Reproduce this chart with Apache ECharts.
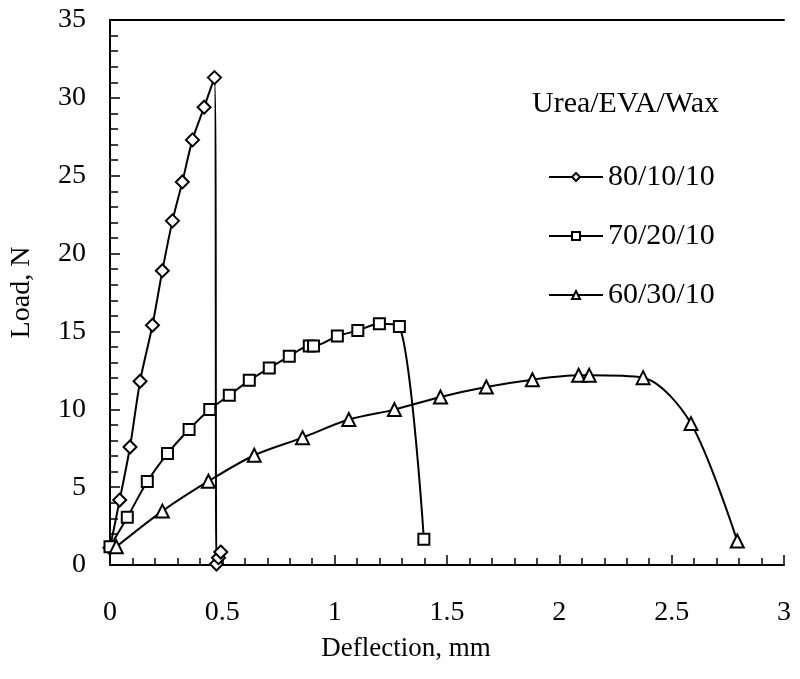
<!DOCTYPE html>
<html>
<head>
<meta charset="utf-8">
<script src="https://cdn.jsdelivr.net/npm/echarts@6/dist/echarts.min.js"></script>
<style>html,body{margin:0;padding:0;background:#fff}#c{width:800px;height:679px}</style>
</head>
<body>
<div id="c"></div>
<script>
// Deflection (mm), Load (N)
const s1Name = '80/10/10';
const s1X = [0.00, 0.043, 0.089, 0.134, 0.189, 0.233, 0.278, 0.322, 0.367, 0.419, 0.465, 0.474, 0.483, 0.493];
const s1Y = [1.10, 4.17, 7.58, 11.8, 15.4, 18.9, 22.1, 24.6, 27.3, 29.4, 31.3, 0.06, 0.47, 0.83];

const s2Name = '70/20/10';
const s2X = [0.00, 0.077, 0.166, 0.256, 0.352, 0.444, 0.531, 0.620, 0.709, 0.798, 0.887, 0.906, 1.012, 1.103, 1.199, 1.288, 1.397];
const s2Y = [1.17, 3.06, 5.36, 7.16, 8.70, 9.98, 10.9, 11.86, 12.65, 13.4, 14.06, 14.06, 14.7, 15.06, 15.49, 15.32, 1.65];

const s3Name = '60/30/10';
const s3X = [0.028, 0.233, 0.438, 0.642, 0.857, 1.063, 1.266, 1.471, 1.675, 1.880, 2.086, 2.133, 2.373, 2.586, 2.792];
const s3Y = [1.17, 3.46, 5.38, 7.05, 8.18, 9.34, 9.98, 10.79, 11.43, 11.9, 12.18, 12.18, 12.03, 9.08, 1.54];

const legendTitle = 'Urea/EVA/Wax';
const xTitle = 'Deflection, mm';
const yTitle = 'Load, N';

const FONT = '"Liberation Serif", "Times New Roman", serif';
const chart = echarts.init(document.getElementById('c'));

function pairs(xs, ys) { return xs.map((x, i) => [x, ys[i]]); }
function mkSeries(name, xs, ys, symbol, size) {
  return {
    name, type: 'line', data: pairs(xs, ys), smooth: 0.3,
    symbol, symbolSize: size,
    lineStyle: { color: '#000', width: 2 },
    itemStyle: { color: '#fff', borderColor: '#000', borderWidth: 2 },
    emphasis: { disabled: true }
  };
}

chart.setOption({
  animation: false,
  backgroundColor: '#fff',
  grid: { left: 110, right: 16, top: 20, bottom: 114, containLabel: false, outerBoundsMode: 'none' },
  title: {
    text: legendTitle, left: 527, top: 84,
    textStyle: { fontFamily: FONT, fontSize: 30, fontWeight: 'normal', color: '#000' }
  },
  legend: {
    orient: 'vertical', left: 543, top: 157,
    itemWidth: 54, itemHeight: 10, itemGap: 29,
    textStyle: { fontFamily: FONT, fontSize: 30, color: '#000' },
    data: [s1Name, s2Name, s3Name]
  },
  xAxis: [{
    type: 'value', min: 0, max: 3, interval: 0.5,
    name: xTitle, nameLocation: 'middle', nameGap: 70,
    nameTextStyle: { fontFamily: FONT, fontSize: 27, color: '#000', padding: [0, 82, 0, 0] },
    axisLine: { lineStyle: { color: '#000', width: 2 } },
    axisTick: { inside: true, length: 10, lineStyle: { color: '#000', width: 1.5 } },
    minorTick: { show: true, splitNumber: 5, length: 7, lineStyle: { color: '#000', width: 1.5 } },
    axisLabel: { fontFamily: FONT, fontSize: 28, color: '#000', margin: 34 },
    splitLine: { show: false }
  }, {
    type: 'value', position: 'top', min: 0, max: 3,
    axisLine: { show: true, lineStyle: { color: '#000', width: 2 } },
    axisTick: { show: false }, axisLabel: { show: false }, splitLine: { show: false }
  }],
  yAxis: {
    type: 'value', min: 0, max: 35, interval: 5,
    name: yTitle, nameLocation: 'middle', nameGap: 74,
    nameTextStyle: { fontFamily: FONT, fontSize: 28, color: '#000' },
    axisLine: { show: true, lineStyle: { color: '#000', width: 2 } },
    axisTick: { inside: true, length: 10, lineStyle: { color: '#000', width: 1.5 } },
    minorTick: { show: true, splitNumber: 5, length: 8, lineStyle: { color: '#000', width: 1.5 } },
    axisLabel: { fontFamily: FONT, fontSize: 28, color: '#000', margin: 24 },
    splitLine: { show: false }
  },
  series: [
    mkSeries(s1Name, s1X, s1Y, 'diamond', 13),
    mkSeries(s2Name, s2X, s2Y, 'rect', 11),
    mkSeries(s3Name, s3X, s3Y, 'triangle', 13)
  ]
});
</script>
</body>
</html>
